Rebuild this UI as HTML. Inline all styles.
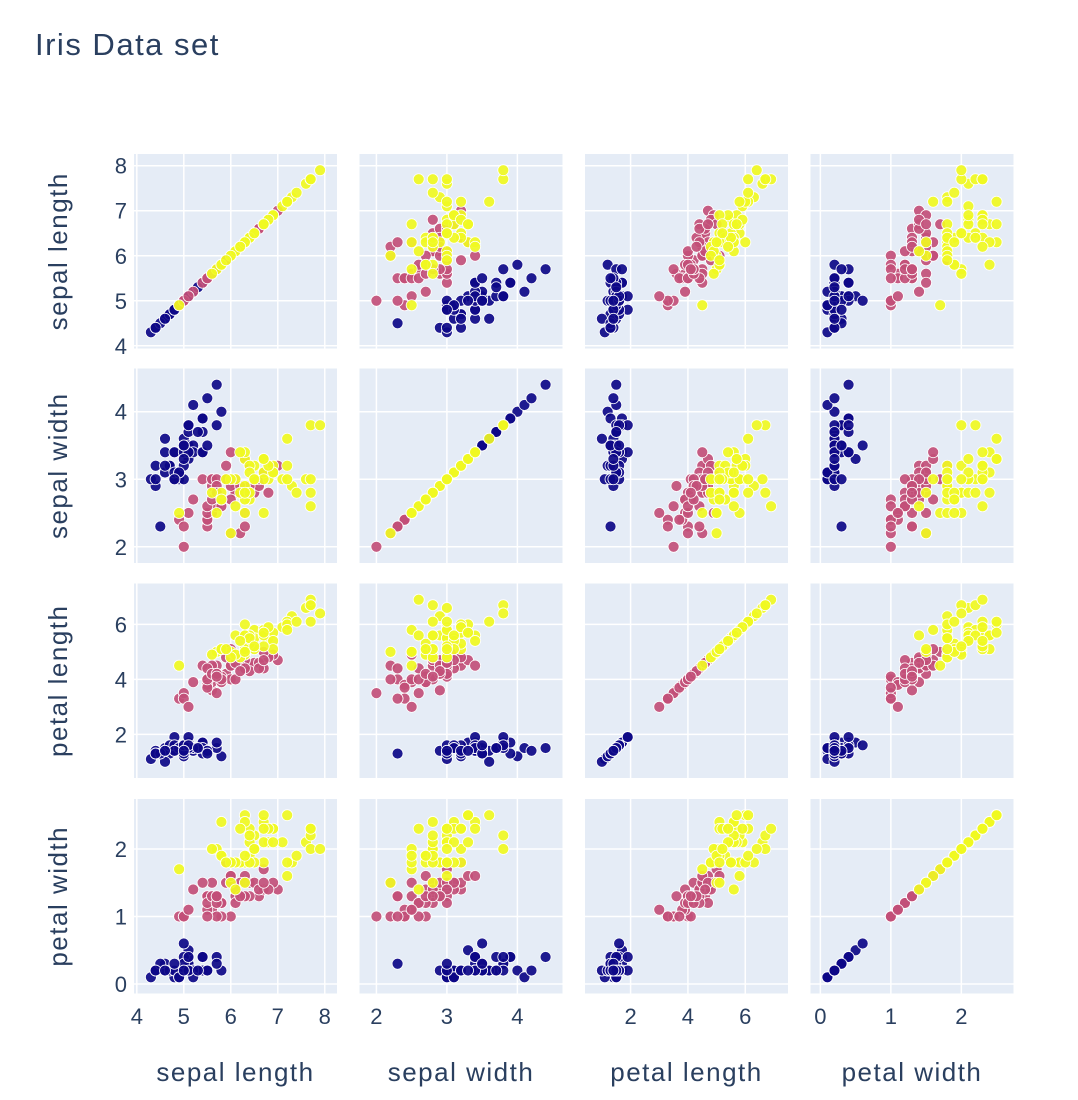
<!DOCTYPE html>
<html><head><meta charset="utf-8"><style>
html,body{margin:0;padding:0;background:#fff;}
svg{display:block;font-family:"Liberation Sans",sans-serif;}
</style></head><body>
<svg id="chart" width="1078" height="1100" viewBox="0 0 1078 1100">
<text x="35" y="55" font-size="31" letter-spacing="1.5" fill="#2a3f5f">Iris Data set</text>
<g id="plots"></g>
</svg>
<script>
const varNames = ["sepal length","sepal width","petal length","petal width"];
const sepalLength = [5.1,4.9,4.7,4.6,5.0,5.4,4.6,5.0,4.4,4.9,5.4,4.8,4.8,4.3,5.8,5.7,5.4,5.1,5.7,5.1,5.4,5.1,4.6,5.1,4.8,5.0,5.0,5.2,5.2,4.7,4.8,5.4,5.2,5.5,4.9,5.0,5.5,4.9,4.4,5.1,5.0,4.5,4.4,5.0,5.1,4.8,5.1,4.6,5.3,5.0,
7.0,6.4,6.9,5.5,6.5,5.7,6.3,4.9,6.6,5.2,5.0,5.9,6.0,6.1,5.6,6.7,5.6,5.8,6.2,5.6,5.9,6.1,6.3,6.1,6.4,6.6,6.8,6.7,6.0,5.7,5.5,5.5,5.8,6.0,5.4,6.0,6.7,6.3,5.6,5.5,5.5,6.1,5.8,5.0,5.6,5.7,5.7,6.2,5.1,5.7,
6.3,5.8,7.1,6.3,6.5,7.6,4.9,7.3,6.7,7.2,6.5,6.4,6.8,5.7,5.8,6.4,6.5,7.7,7.7,6.0,6.9,5.6,7.7,6.3,6.7,7.2,6.2,6.1,6.4,7.2,7.4,7.9,6.4,6.3,6.1,7.7,6.3,6.4,6.0,6.9,6.7,6.9,5.8,6.8,6.7,6.7,6.3,6.5,6.2,5.9];
const sepalWidth = [3.5,3.0,3.2,3.1,3.6,3.9,3.4,3.4,2.9,3.1,3.7,3.4,3.0,3.0,4.0,4.4,3.9,3.5,3.8,3.8,3.4,3.7,3.6,3.3,3.4,3.0,3.4,3.5,3.4,3.2,3.1,3.4,4.1,4.2,3.1,3.2,3.5,3.1,3.0,3.4,3.5,2.3,3.2,3.5,3.8,3.0,3.8,3.2,3.7,3.3,
3.2,3.2,3.1,2.3,2.8,2.8,3.3,2.4,2.9,2.7,2.0,3.0,2.2,2.9,2.9,3.1,3.0,2.7,2.2,2.5,3.2,2.8,2.5,2.8,2.9,3.0,2.8,3.0,2.9,2.6,2.4,2.4,2.7,2.7,3.0,3.4,3.1,2.3,3.0,2.5,2.6,3.0,2.6,2.3,2.7,3.0,2.9,2.9,2.5,2.8,
3.3,2.7,3.0,2.9,3.0,3.0,2.5,2.9,2.5,3.6,3.2,2.7,3.0,2.5,2.8,3.2,3.0,3.8,2.6,2.2,3.2,2.8,2.8,2.7,3.3,3.2,2.8,3.0,2.8,3.0,2.8,3.8,2.8,2.8,2.6,3.0,3.4,3.1,3.0,3.1,3.1,3.1,2.7,3.2,3.3,3.0,2.5,3.0,3.4,3.0];
const petalLength = [1.4,1.4,1.3,1.5,1.4,1.7,1.4,1.5,1.4,1.5,1.5,1.6,1.4,1.1,1.2,1.5,1.3,1.4,1.7,1.5,1.7,1.5,1.0,1.7,1.9,1.6,1.6,1.5,1.4,1.6,1.6,1.5,1.5,1.4,1.5,1.2,1.3,1.5,1.3,1.5,1.3,1.3,1.3,1.6,1.9,1.4,1.6,1.4,1.5,1.4,
4.7,4.5,4.9,4.0,4.6,4.5,4.7,3.3,4.6,3.9,3.5,4.2,4.0,4.7,3.6,4.4,4.5,4.1,4.5,3.9,4.8,4.0,4.9,4.7,4.3,4.4,4.8,5.0,4.5,3.5,3.8,3.7,3.9,5.1,4.5,4.5,4.7,4.4,4.1,4.0,4.4,4.6,4.0,3.3,4.2,4.2,4.2,4.3,3.0,4.1,
6.0,5.1,5.9,5.6,5.8,6.6,4.5,6.3,5.8,6.1,5.1,5.3,5.5,5.0,5.1,5.3,5.5,6.7,6.9,5.0,5.7,4.9,6.7,4.9,5.7,6.0,4.8,4.9,5.6,5.8,6.1,6.4,5.6,5.1,5.6,6.1,5.6,5.5,4.8,5.4,5.6,5.1,5.1,5.9,5.7,5.2,5.0,5.2,5.4,5.1];
const petalWidth = [0.2,0.2,0.2,0.2,0.2,0.4,0.3,0.2,0.2,0.1,0.2,0.2,0.1,0.1,0.2,0.4,0.4,0.3,0.3,0.3,0.2,0.4,0.2,0.5,0.2,0.2,0.4,0.2,0.2,0.2,0.2,0.4,0.1,0.2,0.1,0.2,0.2,0.1,0.2,0.2,0.3,0.3,0.2,0.6,0.4,0.3,0.2,0.2,0.2,0.2,
1.4,1.5,1.5,1.3,1.5,1.3,1.6,1.0,1.3,1.4,1.0,1.5,1.0,1.4,1.3,1.4,1.5,1.0,1.5,1.1,1.8,1.3,1.5,1.2,1.3,1.4,1.4,1.7,1.5,1.0,1.1,1.0,1.2,1.6,1.5,1.6,1.5,1.3,1.3,1.3,1.2,1.4,1.2,1.0,1.3,1.2,1.3,1.3,1.1,1.3,
2.5,1.9,2.1,1.8,2.2,2.1,1.7,1.8,1.8,2.5,2.0,1.9,2.1,2.0,2.4,2.3,1.8,2.2,2.3,1.5,2.3,2.0,2.0,1.8,2.1,1.8,1.8,1.8,2.1,1.6,1.9,2.0,2.2,1.5,1.4,2.3,2.4,1.8,1.8,2.1,2.4,2.3,1.9,2.3,2.5,2.3,1.9,2.0,2.3,1.8];
const speciesCodes = "00000000000000000000000000000000000000000000000000" +
                     "11111111111111111111111111111111111111111111111111" +
                     "22222222222222222222222222222222222222222222222222";
const speciesColors = ["#0d0887","#c24f78","#f0f921"];
const tickSL = [4,5,6,7,8];
const tickSW = [2,3,4];
const tickPL = [2,4,6];
const tickPW = [0,1,2];

const cols = [sepalLength, sepalWidth, petalLength, petalWidth];
const ticks = [tickSL, tickSW, tickPL, tickPW];
const NS = "http://www.w3.org/2000/svg";
const g = document.getElementById("plots");
const panelX = [134, 359.5, 585, 810.5], panelW = 203;
const panelY = [154, 368.5, 583.5, 799], panelH = 194.5;

function extent(a){let mn=Math.min(...a),mx=Math.max(...a),s=mx-mn;return [mn-0.1*s,mx+0.1*s];}
const ranges = cols.map(extent);
function sx(v,c){const r=ranges[c];return panelX[c]+(v-r[0])/(r[1]-r[0])*panelW;}
function sy(v,rw){const r=ranges[rw];return panelY[rw]+panelH-(v-r[0])/(r[1]-r[0])*panelH;}
function mk(tag,attrs){const e=document.createElementNS(NS,tag);for(const k in attrs)e.setAttribute(k,attrs[k]);return e;}

for(let r=0;r<4;r++){
  for(let c=0;c<4;c++){
    const p=mk("g",{});
    
    
    const bg=mk("rect",{x:panelX[c],y:panelY[r],width:panelW,height:panelH,fill:"#e5ecf6"});
    
    
    p.appendChild(bg);
    ticks[c].forEach(t=>{const x=sx(t,c);const l=mk("line",{x1:x,x2:x,y1:panelY[r],y2:panelY[r]+panelH,stroke:"#fff","stroke-width":1.5});
      
      
      p.appendChild(l);});
    ticks[r].forEach(t=>{const y=sy(t,r);const l=mk("line",{x1:panelX[c],x2:panelX[c]+panelW,y1:y,y2:y,stroke:"#fff","stroke-width":1.5});
      
      
      p.appendChild(l);});
    const xs=cols[c], ys=cols[r];
    for(let i=0;i<xs.length;i++){
      const pt=mk("circle",{cx:sx(xs[i],c),cy:sy(ys[i],r),r:5.5,fill:speciesColors[+speciesCodes[i]],stroke:"#fff","stroke-width":0.8,"fill-opacity":0.92});
      
      
      p.appendChild(pt);
    }
    g.appendChild(p);
  }
}
for(let r=0;r<4;r++){
  ticks[r].forEach(t=>{const y=sy(t,r);const tx=mk("text",{x:127,y:y+8,"text-anchor":"end","font-size":22,fill:"#2a3f5f"});tx.textContent=t;
    
    
    g.appendChild(tx);});
  const yt=mk("text",{x:0,y:0,"text-anchor":"middle","font-size":26,"letter-spacing":1.5,fill:"#2a3f5f",transform:`translate(67,${panelY[r]+panelH/2}) rotate(-90)`});
  yt.textContent=varNames[r];
  
  
  g.appendChild(yt);
}
for(let c=0;c<4;c++){
  ticks[c].forEach(t=>{const x=sx(t,c);const tx=mk("text",{x:x,y:1024,"text-anchor":"middle","font-size":22,fill:"#2a3f5f"});tx.textContent=t;
    
    
    g.appendChild(tx);});
  const xt=mk("text",{x:panelX[c]+panelW/2,y:1081,"text-anchor":"middle","font-size":26,"letter-spacing":1.5,fill:"#2a3f5f"});
  xt.textContent=varNames[c];
  
  
  g.appendChild(xt);
}
</script>
</body></html>
